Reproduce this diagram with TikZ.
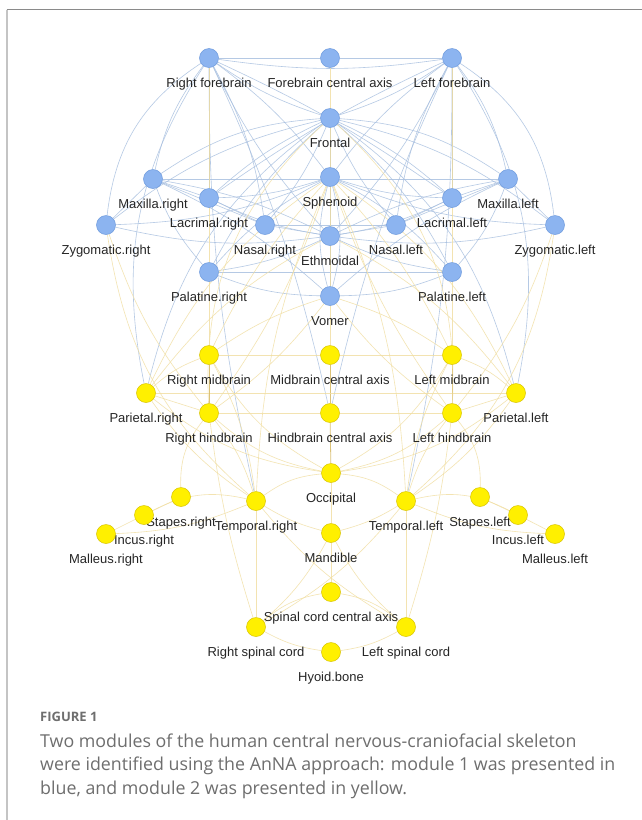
\documentclass[tikz,border=0pt]{standalone}
\usepackage{fontspec}
\setmainfont{Liberation Sans}
\newfontfamily\capfont{Open Sans}
\usetikzlibrary{backgrounds}
\definecolor{bfill}{HTML}{8CB4F0}
\definecolor{bline}{HTML}{6F9BDD}
\definecolor{yfill}{HTML}{FFF000}
\definecolor{yline}{HTML}{D8C400}
\definecolor{bedge}{HTML}{A9C0E0}
\definecolor{bedged}{HTML}{7E9FD2}
\definecolor{yedge}{HTML}{F1DFA4}
\definecolor{yedged}{HTML}{D8BC6A}
\definecolor{captxt}{HTML}{6E6E6E}
\definecolor{frametop}{HTML}{8A8A8A}
\definecolor{frameleft}{HTML}{C4C4C4}
\tikzset{
 bnode/.style={circle, fill=bfill, draw=bline, line width=0.5pt, minimum size=19pt, inner sep=0pt},
 ynode/.style={circle, fill=yfill, draw=yline, line width=0.5pt, minimum size=19pt, inner sep=0pt},
 lbl/.style={anchor=base, inner sep=0pt, font=\fontsize{13}{15}\selectfont, text=black!85},
 be/.style={draw=bedge, line width=0.6pt, opacity=0.85},
 bd/.style={draw=bedged, line width=0.8pt, opacity=0.9},
 ye/.style={draw=yedge, line width=0.6pt, opacity=0.85},
 yd/.style={draw=yedged, line width=0.8pt, opacity=0.9},
 captext/.style={anchor=base west, inner sep=0pt, text=captxt},
}
\newcommand\bn[4]{\node[bnode] (#1) at (#2,#3) {}; \node[lbl] (#1-l) at (#2,#3+29.5) {#4};}
\newcommand\yn[4]{\node[ynode] (#1) at (#2,#3) {}; \node[lbl] (#1-l) at (#2,#3+29.5) {#4};}
\begin{document}
\begin{tikzpicture}[x=1pt,y=-1pt]
\useasboundingbox (0,0) rectangle (642,820);
% ---------- nodes ----------
\bn{rf}{209}{58}{Right forebrain}
\bn{fca}{330}{58}{Forebrain central axis}
\bn{lf}{452}{58}{Left forebrain}
\bn{fr}{330}{118}{Frontal}
\bn{sp}{330}{177}{Sphenoid}
\bn{mr}{153}{179}{Maxilla.right}
\bn{ml}{508}{179}{Maxilla.left}
\bn{lr}{209}{198}{Lacrimal.right}
\bn{ll}{452}{198}{Lacrimal.left}
\bn{zr}{106}{225}{Zygomatic.right}
\bn{zl}{555}{225}{Zygomatic.left}
\bn{nr}{265}{225}{Nasal.right}
\bn{nl}{396}{225}{Nasal.left}
\bn{eth}{330}{236}{Ethmoidal}
\bn{pr}{209}{272}{Palatine.right}
\bn{pl}{452}{272}{Palatine.left}
\bn{vom}{330}{296}{Vomer}
\yn{rm}{209}{355}{Right midbrain}
\yn{mca}{330}{355}{Midbrain central axis}
\yn{lm}{452}{355}{Left midbrain}
\yn{par}{146}{393}{Parietal.right}
\yn{pal}{516}{393}{Parietal.left}
\yn{rh}{209}{413}{Right hindbrain}
\yn{hca}{330}{413}{Hindbrain central axis}
\yn{lh}{452}{413}{Left hindbrain}
\yn{occ}{331}{473}{Occipital}
\yn{sr}{181}{497}{Stapes.right}
\yn{ir}{144}{515}{Incus.right}
\yn{malr}{106}{534}{Malleus.right}
\yn{tr}{256}{501}{Temporal.right}
\yn{man}{331}{533}{Mandible}
\yn{tl}{406}{501}{Temporal.left}
\yn{sl}{480}{497}{Stapes.left}
\yn{il}{518}{515}{Incus.left}
\yn{mall}{555}{534}{Malleus.left}
\yn{scc}{331}{592}{Spinal cord central axis}
\yn{rs}{256}{627}{Right spinal cord}
\yn{ls}{406}{627}{Left spinal cord}
\yn{hyo}{331}{652}{Hyoid.bone}
% ---------- caption ----------
\node[captext, font=\capfont\bfseries\fontsize{13}{14}\selectfont] (fig) at (40,721) {FIGURE 1};
\node[captext, font=\capfont\fontsize{17.8}{20}\selectfont] (c1) at (40,747) {Two modules of the human central nervous-craniofacial skeleton};
\node[captext, font=\capfont\fontsize{17.8}{20}\selectfont] (c2) at (40,770.5) {were identified using the AnNA approach: module 1 was presented in};
\node[captext, font=\capfont\fontsize{17.8}{20}\selectfont] (c3) at (40,794) {blue, and module 2 was presented in yellow.};
% ---------- background: frame and edges ----------
\begin{scope}[on background layer]
\fill[white] (0,0) rectangle (642,820);
\coordinate (ftl) at (6.5,9.5);
\coordinate (ftr) at (642,9.5);
\coordinate (fbl) at (6.5,820);
\draw[frametop, line width=1.5pt] (ftl) -- (ftr);
\draw[frameleft, line width=2pt] (ftl) -- (fbl);
% ---- blue, centre ----
\draw[be] (rf) -- (fca);
\draw[be] (fca) -- (lf);
\draw[be] (rf) to[bend right=8] (lf);
\draw[bd] (fr) -- (sp);
\draw[bd] (sp) -- (eth);
\draw[bd] (eth) -- (vom);
\draw[be] (mr) -- (ml);
\draw[be] (nr) -- (nl);
\draw[be] (pr) -- (pl);
\draw[be] (rf) to[bend left=5] (ll);
\draw[be] (lf) to[bend right=5] (lr);
% ---- blue, right side ----
\draw[bd] (rf) -- (lr);
\draw[be] (rf) to[bend right=8] (fr);
\draw[be] (rf) to[bend left=8] (sp);
\draw[be] (rf) to[bend right=8] (eth);
\draw[be] (rf) to[bend left=10] (nr);
\draw[be] (rf) to[bend right=12] (mr);
\draw[be] (rf) to[bend right=25] (zr);
\draw[be] (rf) to[bend right=22] (par);
\draw[be] (rf) to[bend right=6] (tr);
\draw[be] (rf) to[bend left=6] (hca);
\draw[be] (fr) to[bend right=15] (mr);
\draw[be] (fr) to[bend right=12] (zr);
\draw[be] (fr) to[bend right=8] (lr);
\draw[be] (fr) to[bend left=8] (nr);
\draw[be] (fr) to[bend right=10] (pr);
\draw[be] (fr) to[bend right=20] (par);
\draw[be] (sp) to[bend left=10] (zr);
\draw[be] (sp) to[bend right=10] (pr);
\draw[be] (sp) to[bend left=8] (lr);
\draw[be] (sp) to[bend right=15] (vom);
\draw[be] (eth) -- (nr);
\draw[be] (eth) to[bend right=8] (mr);
\draw[be] (eth) to[bend left=8] (lr);
\draw[be] (eth) to[bend left=8] (pr);
\draw[be] (eth) to[bend left=10] (zr);
\draw[be] (mr) -- (zr);
\draw[be] (mr) -- (lr);
\draw[be] (mr) -- (nr);
\draw[be] (mr) to[bend right=10] (pr);
\draw[be] (mr) to[bend left=8] (vom);
\draw[be] (lr) -- (nr);
\draw[be] (pr) to[bend right=10] (vom);
% ---- blue, left side ----
\draw[bd] (lf) -- (ll);
\draw[be] (lf) to[bend left=8] (fr);
\draw[be] (lf) to[bend right=8] (sp);
\draw[be] (lf) to[bend left=8] (eth);
\draw[be] (lf) to[bend right=10] (nl);
\draw[be] (lf) to[bend left=12] (ml);
\draw[be] (lf) to[bend left=25] (zl);
\draw[be] (lf) to[bend left=22] (pal);
\draw[be] (lf) to[bend left=6] (tl);
\draw[be] (lf) to[bend right=6] (hca);
\draw[be] (fr) to[bend left=15] (ml);
\draw[be] (fr) to[bend left=12] (zl);
\draw[be] (fr) to[bend left=8] (ll);
\draw[be] (fr) to[bend right=8] (nl);
\draw[be] (fr) to[bend left=10] (pl);
\draw[be] (fr) to[bend left=20] (pal);
\draw[be] (sp) to[bend right=10] (zl);
\draw[be] (sp) to[bend left=10] (pl);
\draw[be] (sp) to[bend right=8] (ll);
\draw[be] (sp) to[bend left=15] (vom);
\draw[be] (eth) -- (nl);
\draw[be] (eth) to[bend left=8] (ml);
\draw[be] (eth) to[bend right=8] (ll);
\draw[be] (eth) to[bend right=8] (pl);
\draw[be] (eth) to[bend right=10] (zl);
\draw[be] (ml) -- (zl);
\draw[be] (ml) -- (ll);
\draw[be] (ml) -- (nl);
\draw[be] (ml) to[bend left=10] (pl);
\draw[be] (ml) to[bend right=8] (vom);
\draw[be] (ll) -- (nl);
\draw[be] (pl) to[bend left=10] (vom);
% ---- yellow, centre ----
\draw[ye] (fca) -- (mca);
\draw[yd] (mca) -- (hca);
\draw[yd] (hca) -- (occ);
\draw[ye] (occ) -- (man);
\draw[ye] (man) -- (scc);
\draw[ye] (rm) -- (mca);
\draw[ye] (mca) -- (lm);
\draw[ye] (rh) -- (hca);
\draw[ye] (hca) -- (lh);
\draw[ye] (par) -- (pal);
\draw[ye] (rs) to[bend right=10] (hyo);
\draw[ye] (hyo) to[bend right=10] (ls);
% ---- yellow, right side ----
\draw[ye] (rf) -- (rm);
\draw[yd] (rm) -- (rh);
\draw[ye] (scc) to[bend right=15] (rs);
\draw[ye] (rh) to[bend right=15] (occ);
\draw[ye] (rm) to[bend right=15] (occ);
\draw[ye] (par) to[bend right=15] (occ);
\draw[ye] (par) to[bend left=10] (rm);
\draw[ye] (par) -- (rh);
\draw[ye] (par) to[bend right=10] (tr);
\draw[ye] (par) to[bend left=15] (sp);
\draw[ye] (rm) to[bend left=10] (tr);
\draw[ye] (rh) to[bend left=10] (tr);
\draw[ye] (rh) to[bend right=20] (sr);
\draw[ye] (rh) to[bend right=5] (rs);
\draw[ye] (tr) -- (rs);
\draw[ye] (tr) to[bend right=8] (man);
\draw[ye] (tr) to[bend left=15] (occ);
\draw[ye] (tr) to[bend right=10] (ls);
\draw[ye] (tr) to[bend right=20] (ir);
\draw[ye] (tr) to[bend left=10] (malr);
\draw[ye] (sr) -- (ir);
\draw[ye] (ir) -- (malr);
\draw[ye] (man) to[bend left=10] (rs);
\draw[ye] (sp) to[bend right=10] (tr);
\draw[ye] (sp) to[bend right=8] (rm);
\draw[ye] (sp) to[bend left=8] (rh);
\draw[ye] (zr) to[bend right=20] (tr);
\draw[ye] (zr) to[bend right=10] (rh);
\draw[ye] (vom) to[bend right=8] (rm);
\draw[ye] (vom) to[bend left=8] (rh);
\draw[ye] (fr) to[bend right=25] (rh);
\draw[ye] (eth) to[bend right=12] (par);
% ---- yellow, left side ----
\draw[ye] (lf) -- (lm);
\draw[yd] (lm) -- (lh);
\draw[ye] (scc) to[bend left=15] (ls);
\draw[ye] (lh) to[bend left=15] (occ);
\draw[ye] (lm) to[bend left=15] (occ);
\draw[ye] (pal) to[bend left=15] (occ);
\draw[ye] (pal) to[bend right=10] (lm);
\draw[ye] (pal) -- (lh);
\draw[ye] (pal) to[bend left=10] (tl);
\draw[ye] (pal) to[bend right=15] (sp);
\draw[ye] (lm) to[bend right=10] (tl);
\draw[ye] (lh) to[bend right=10] (tl);
\draw[ye] (lh) to[bend left=20] (sl);
\draw[ye] (lh) to[bend left=5] (ls);
\draw[ye] (tl) -- (ls);
\draw[ye] (tl) to[bend left=8] (man);
\draw[ye] (tl) to[bend right=15] (occ);
\draw[ye] (tl) to[bend left=10] (rs);
\draw[ye] (tl) to[bend left=20] (il);
\draw[ye] (tl) to[bend right=10] (mall);
\draw[ye] (sl) -- (il);
\draw[ye] (il) -- (mall);
\draw[ye] (man) to[bend right=10] (ls);
\draw[ye] (sp) to[bend left=10] (tl);
\draw[ye] (sp) to[bend left=8] (lm);
\draw[ye] (sp) to[bend right=8] (lh);
\draw[ye] (zl) to[bend left=20] (tl);
\draw[ye] (zl) to[bend left=10] (lh);
\draw[ye] (vom) to[bend left=8] (lm);
\draw[ye] (vom) to[bend right=8] (lh);
\draw[ye] (fr) to[bend left=25] (lh);
\draw[ye] (eth) to[bend left=12] (pal);
\end{scope}
\end{tikzpicture}
\end{document}
